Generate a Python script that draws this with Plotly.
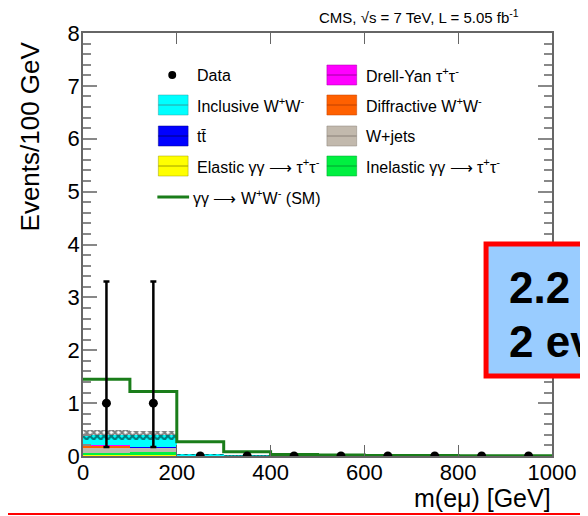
import numpy as np
import plotly.graph_objects as go

# ---------------- data ----------------
bin_centers = [50, 150, 250, 350, 450, 550, 650, 750, 850, 950]
bin_edges = [0, 100, 200, 300, 400, 500, 600, 700, 800, 900, 1000]
data_counts = [1, 1, 0, 0, 0, 0, 0, 0, 0, 0]
data_err_up = [2.3, 2.3, 0, 0, 0, 0, 0, 0, 0, 0]
data_err_down = [0.83, 0.83, 0, 0, 0, 0, 0, 0, 0, 0]

elastic_tautau = [0.015, 0.01, 0.0, 0, 0, 0, 0, 0, 0, 0]
inelastic_tautau = [0.045, 0.06, 0.002, 0, 0, 0, 0, 0, 0, 0]
w_jets = [0.10, 0.09, 0.004, 0.001, 0, 0, 0, 0, 0, 0]
diffractive_ww = [0.03, 0.005, 0.008, 0.003, 0.002, 0.001, 0.001, 0.002, 0.0, 0.0]
ttbar = [0.005, 0.005, 0.002, 0.001, 0, 0, 0, 0, 0, 0]
drell_yan = [0.005, 0.0, 0, 0, 0, 0, 0, 0, 0, 0]
inclusive_ww = [0.20, 0.22, 0.012, 0.004, 0.003, 0.002, 0.001, 0.003, 0.001, 0.001]
bkg_uncertainty = [0.10, 0.09, 0.012, 0.005, 0.003, 0.002, 0.002, 0.004, 0.001, 0.001]

signal_sm = [1.45, 1.22, 0.27, 0.08, 0.03, 0.02, 0.01, 0.01, 0.006, 0.006]

x_tick_vals = [0, 200, 400, 600, 800, 1000]
y_tick_vals = [0, 1, 2, 3, 4, 5, 6, 7, 8]

FONT = "Liberation Sans, Arial, Helvetica, sans-serif"

# ---------------- figure ----------------
fig = go.Figure()

components = [
    ("Elastic", elastic_tautau, "#ffff00"),
    ("Inelastic", inelastic_tautau, "#00f040"),
    ("W+jets", w_jets, "#c2b9ad"),
    ("Diffractive", diffractive_ww, "#ff6000"),
    ("ttbar", ttbar, "#0000ff"),
    ("Drell-Yan", drell_yan, "#ff00ff"),
    ("Inclusive", inclusive_ww, "#00ffff"),
]

base = np.zeros(len(bin_centers))
for name, vals, col in components:
    v = np.array(vals, dtype=float)
    fig.add_trace(go.Bar(x=bin_centers, y=v, base=base.copy(), width=100,
                         marker=dict(color=col, line=dict(width=0)),
                         name=name, showlegend=False))
    base = base + v
total_bkg = base

unc = np.array(bkg_uncertainty)
fig.add_trace(go.Bar(x=bin_centers, y=2 * unc, base=total_bkg - unc, width=100,
                     marker=dict(color="rgba(0,0,0,0)", line=dict(width=0),
                                 pattern=dict(shape="x", fgcolor="black", size=5,
                                              solidity=0.7, fillmode="overlay")),
                     showlegend=False))

# SM signal step line
fig.add_trace(go.Scatter(x=bin_edges, y=list(signal_sm) + [signal_sm[-1]],
                         mode="lines", line=dict(color="#1a7d1a", width=3, shape="hv"),
                         showlegend=False))

# data
fig.add_trace(go.Scatter(x=bin_centers, y=data_counts, mode="markers",
                         marker=dict(color="black", size=9),
                         error_y=dict(type="data", array=data_err_up, arrayminus=data_err_down,
                                      color="black", thickness=2.5, width=3),
                         showlegend=False))

# ---------------- layout ----------------
OFF = 8                      # page body margin
W, H = 588 - OFF, 516 - OFF  # figure size so that it fits the window
PL, PR, PT, PB = 83, 556, 33, 456   # plot area in page pixels
PW, PH = PR - PL, PB - PT


def px(x):
    return (x - PL) / PW


def py(y):
    return (PB - y) / PH


fig.update_layout(
    width=W, height=H,
    margin=dict(l=PL - OFF, r=W - (PR - OFF), t=PT - OFF, b=H - (PB - OFF), pad=0),
    paper_bgcolor="white", plot_bgcolor="white",
    barmode="overlay", bargap=0,
    font=dict(family=FONT, color="black"),
    xaxis=dict(range=[0, 1000], tickvals=x_tick_vals, ticks="inside", ticklen=11,
               tickcolor="#666", tickwidth=1, showgrid=False, zeroline=False,
               showline=True, linecolor="#666", linewidth=1.5, mirror="allticks",
               tickfont=dict(size=22, family=FONT, color="black"), ticklabelstandoff=-4),
    yaxis=dict(range=[0, 8], tickvals=y_tick_vals, ticks="inside", ticklen=14,
               tickcolor="#888", tickwidth=1.5, showgrid=False, zeroline=False,
               showline=True, linecolor="#666", linewidth=1.5, mirror="allticks",
               minor=dict(dtick=0.2, ticks="inside", ticklen=8, tickcolor="#888", tickwidth=1.5),
               tickfont=dict(size=22, family=FONT, color="black"), ticklabelstandoff=-3),
)

ann = []
shapes = []

# axis titles
ann.append(dict(text="Events/100 GeV", xref="paper", yref="paper", x=px(30), y=py(136),
                textangle=-90, showarrow=False, font=dict(size=26, family=FONT),
                xanchor="center", yanchor="middle"))
ann.append(dict(text="m(e\u03bc) [GeV]", xref="paper", yref="paper", x=px(557), y=py(498),
                showarrow=False, font=dict(size=25, family=FONT),
                xanchor="right", yanchor="middle"))
ann.append(dict(text="CMS, \u221as = 7 TeV, L = 5.05 fb<sup>-1</sup>", xref="paper", yref="paper",
                x=px(525), y=py(17), showarrow=False, font=dict(size=15, family=FONT),
                xanchor="right", yanchor="middle"))

# legend (drawn manually)
rows = [75, 105, 136, 166, 197]
c1_box, c1_txt = (159, 189), 196
c2_box, c2_txt = (329, 359), 366
ARROW = "\u27f6"
legend_items = [
    (0, "L", "Data", None, None),
    (0, "R", "Drell-Yan \u03c4<sup>+</sup>\u03c4<sup>-</sup>", "#ff00ff", "#a000a0"),
    (1, "L", "Inclusive W<sup>+</sup>W<sup>-</sup>", "#00ffff", "#30a0a0"),
    (1, "R", "Diffractive W<sup>+</sup>W<sup>-</sup>", "#ff6000", "#c04000"),
    (2, "L", "tt\u0304", "#0000ff", "#000080"),
    (2, "R", "W+jets", "#c2b9ad", "#8a8078"),
    (3, "L", "Elastic \u03b3\u03b3 " + ARROW + " \u03c4<sup>+</sup>\u03c4<sup>-</sup>", "#ffff00", "#a0a000"),
    (3, "R", "Inelastic \u03b3\u03b3 " + ARROW + " \u03c4<sup>+</sup>\u03c4<sup>-</sup>", "#00f040", "#00a030"),
]
for r, col, label, fill, mid in legend_items:
    yc = rows[r]
    bx = c1_box if col == "L" else c2_box
    tx = c1_txt if col == "L" else c2_txt
    if fill is None:
        shapes.append(dict(type="circle", xref="paper", yref="paper",
                           x0=px(169), x1=px(177), y0=py(yc + 4), y1=py(yc - 4),
                           fillcolor="black", line=dict(width=0)))
    else:
        shapes.append(dict(type="rect", xref="paper", yref="paper",
                           x0=px(bx[0]), x1=px(bx[1]), y0=py(yc + 10), y1=py(yc - 10),
                           fillcolor=fill, line=dict(width=0.5, color=mid)))
        shapes.append(dict(type="line", xref="paper", yref="paper",
                           x0=px(bx[0]), x1=px(bx[1]), y0=py(yc), y1=py(yc),
                           line=dict(width=1, color=mid)))
    ann.append(dict(text=label, xref="paper", yref="paper", x=px(tx), y=py(yc),
                    showarrow=False, font=dict(size=16, family=FONT),
                    xanchor="left", yanchor="middle"))

# SM legend line
yc = rows[4]
shapes.append(dict(type="line", xref="paper", yref="paper",
                   x0=px(158), x1=px(190), y0=py(yc), y1=py(yc),
                   line=dict(width=3, color="#1a7d1a")))
ann.append(dict(text="\u03b3\u03b3 " + ARROW + " W<sup>+</sup>W<sup>-</sup> (SM)", xref="paper", yref="paper",
                x=px(c1_txt - 4), y=py(yc), showarrow=False, font=dict(size=16, family=FONT),
                xanchor="left", yanchor="middle"))

# overlay box (slide annotation)
shapes.append(dict(type="rect", xref="paper", yref="paper", layer="above",
                   x0=px(489.5), x1=px(640), y0=py(376), y1=py(244),
                   fillcolor="#99ccff", line=dict(width=5, color="#ff0000")))
ann.append(dict(text="<b>2.2 expected</b>", xref="paper", yref="paper", x=px(511), y=py(287),
                showarrow=False, font=dict(size=44, family=FONT), xanchor="left", yanchor="middle"))
ann.append(dict(text="<b>2 events observed</b>", xref="paper", yref="paper", x=px(511), y=py(341),
                showarrow=False, font=dict(size=44, family=FONT), xanchor="left", yanchor="middle"))

# red slide rule at the bottom
shapes.append(dict(type="line", xref="paper", yref="paper",
                   x0=px(0), x1=px(588), y0=py(514), y1=py(514),
                   line=dict(width=2, color="#ff0000")))

fig.update_layout(annotations=ann, shapes=shapes)

fig.write_html("out.html")
